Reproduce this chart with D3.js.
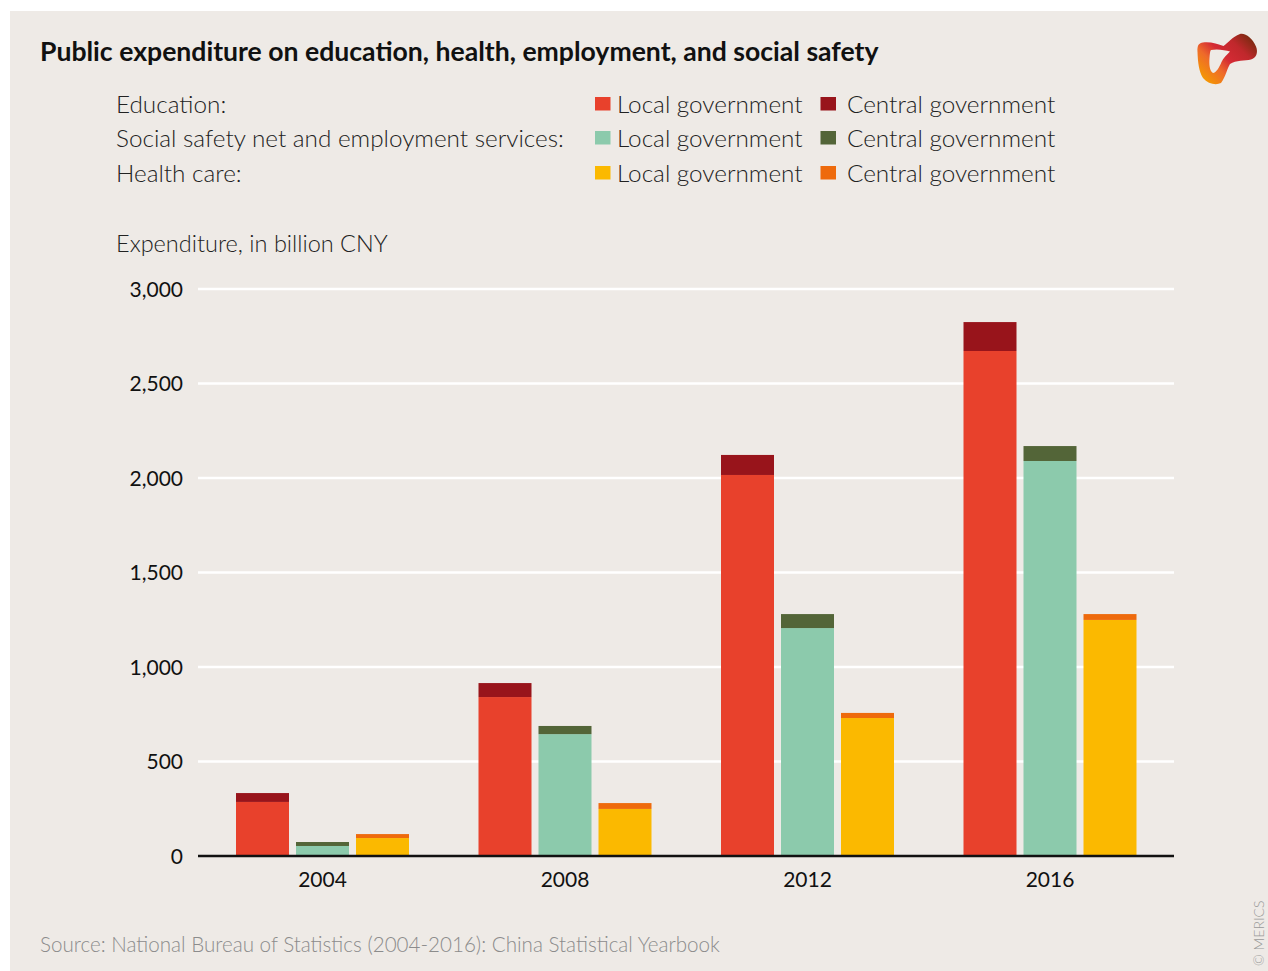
<!DOCTYPE html>
<html>
<head>
<meta charset="utf-8">
<script src="https://cdn.jsdelivr.net/npm/d3@7"></script>
<style>
  html, body { margin: 0; padding: 0; background: #ffffff; }
  svg { display: block; }
  text { font-family: Lato, "Open Sans", sans-serif; }
</style>
</head>
<body>
<svg id="chart" width="1268" height="971"></svg>
<script>
// Expenditure in billion CNY, by year and level of government
const years = ["2004", "2008", "2012", "2016"];
const educationLocal   = [286, 841, 2016, 2672];
const educationCentral = [47, 74, 106, 153];
const socialLocal      = [53, 645, 1206, 2090];
const socialCentral    = [21, 43, 74, 79];
const healthLocal      = [95, 249, 730, 1249];
const healthCentral    = [21, 31, 27, 31];
const yTicks = [0, 500, 1000, 1500, 2000, 2500, 3000];

const sectors = ["Education", "Social safety net and employment services", "Health care"];
const sectorData = [
  { local: educationLocal, central: educationCentral, localColor: "#e8412c", centralColor: "#98141b" },
  { local: socialLocal,    central: socialCentral,    localColor: "#8ccaac", centralColor: "#536538" },
  { local: healthLocal,    central: healthCentral,    localColor: "#fbb900", centralColor: "#ee6a0c" }
];

const svg = d3.select("#chart");
const W = 1268, H = 971;

// panel background
svg.append("rect").attr("x", 10).attr("y", 11).attr("width", W - 10).attr("height", H - 11)
  .attr("fill", "#eeeae6");

// title
svg.append("text").attr("x", 40).attr("y", 61)
  .attr("font-size", 26.6).attr("font-weight", 700).attr("fill", "#111")
  .text("Public expenditure on education, health, employment, and social safety");

// logo
const defs = svg.append("defs");
const grad = defs.append("linearGradient").attr("id", "logoGrad")
  .attr("gradientUnits", "userSpaceOnUse")
  .attr("x1", 1205).attr("y1", 82).attr("x2", 1250).attr("y2", 36);
grad.append("stop").attr("offset", "0%").attr("stop-color", "#f59a00");
grad.append("stop").attr("offset", "30%").attr("stop-color", "#ee6a2a");
grad.append("stop").attr("offset", "50%").attr("stop-color", "#d42a34");
grad.append("stop").attr("offset", "75%").attr("stop-color", "#c0282c");
grad.append("stop").attr("offset", "100%").attr("stop-color", "#7a2a10");
svg.append("path")
  .attr("fill", "url(#logoGrad)")
  .attr("fill-rule", "evenodd")
  .attr("d",
    "M1197.5,52 C1197,45 1199,43 1203,42.5 C1210,41.5 1218,44 1223.5,46 " +
    "C1228,43 1232,37 1240,34 C1246,33 1252,38 1256,46.5 C1258.5,53 1256,58 1251,59.5 " +
    "C1245,61 1236,60 1230,64 C1227,69 1226,76 1221,83 C1216,85.5 1208,84 1203,78 " +
    "C1199,72 1197.8,62 1197.5,52 Z " +
    "M1211,50 C1217,48.5 1225,50 1230,51.5 C1227,55 1223,58 1221.5,62 " +
    "C1219.5,67 1216,73 1213,73 C1209.5,71 1209,64 1209.5,58 C1209.8,54 1210,51 1211,50 Z");

// legend
const legendRows = [113, 147, 182];
const legendSize = 24.3;
const legend = svg.append("g");
sectors.forEach((s, i) => {
  const y = legendRows[i];
  legend.append("text").attr("x", 116).attr("y", y)
    .attr("font-size", legendSize).attr("font-weight", 300).attr("fill", "#222")
    .text(s + ":");
  legend.append("rect").attr("x", 595).attr("y", y - 16).attr("width", 15.5).attr("height", 13.5)
    .attr("fill", sectorData[i].localColor);
  legend.append("text").attr("x", 617).attr("y", y)
    .attr("font-size", legendSize).attr("font-weight", 300).attr("fill", "#222")
    .text("Local government");
  legend.append("rect").attr("x", 820.5).attr("y", y - 16).attr("width", 15.5).attr("height", 13.5)
    .attr("fill", sectorData[i].centralColor);
  legend.append("text").attr("x", 847).attr("y", y)
    .attr("font-size", legendSize).attr("font-weight", 300).attr("fill", "#222")
    .text("Central government");
});

// axis title
svg.append("text").attr("x", 116).attr("y", 252)
  .attr("font-size", 23.5).attr("font-weight", 300).attr("fill", "#222")
  .text("Expenditure, in billion CNY");

// scales
const plotLeft = 198, plotRight = 1174;
const y = d3.scaleLinear().domain([0, 3000]).range([856, 289]);
const x0 = d3.scaleBand().domain(years).range([201.25, 1171.25]).paddingInner(0).paddingOuter(0);
const x1 = d3.scaleBand().domain(d3.range(sectors.length)).range([-86.5, 86.5])
  .paddingInner(7 / 60).paddingOuter(0);

// gridlines
svg.append("g").selectAll("line").data(yTicks.filter(t => t > 0)).join("line")
  .attr("x1", plotLeft).attr("x2", plotRight)
  .attr("y1", d => y(d)).attr("y2", d => y(d))
  .attr("stroke", "#ffffff").attr("stroke-width", 2.6);

// y tick labels
const yAxis = d3.axisLeft(y).tickValues(yTicks).tickFormat(d3.format(",")).tickSize(0).tickPadding(0);
const gy = svg.append("g").attr("transform", "translate(183,0)").call(yAxis);
gy.select(".domain").remove();
gy.selectAll("text").attr("font-size", 21).attr("fill", "#111")
  .attr("font-family", "Lato, 'Open Sans', sans-serif").attr("dy", "0.35em");

// bars
const groups = svg.append("g").selectAll("g").data(years).join("g")
  .attr("transform", d => `translate(${x0(d) + x0.bandwidth() / 2},0)`);
groups.each(function (yr, yi) {
  const g = d3.select(this);
  sectorData.forEach((sd, si) => {
    const loc = sd.local[yi], cen = sd.central[yi];
    g.append("rect").attr("x", x1(si)).attr("width", x1.bandwidth())
      .attr("y", y(loc)).attr("height", y(0) - y(loc)).attr("fill", sd.localColor);
    g.append("rect").attr("x", x1(si)).attr("width", x1.bandwidth())
      .attr("y", y(loc + cen)).attr("height", y(loc) - y(loc + cen)).attr("fill", sd.centralColor);
  });
});

// baseline
svg.append("line").attr("x1", plotLeft).attr("x2", plotRight)
  .attr("y1", y(0)).attr("y2", y(0)).attr("stroke", "#111").attr("stroke-width", 2.6);

// x axis labels
const xAxis = d3.axisBottom(x0).tickSize(0).tickPadding(0);
const gx = svg.append("g").attr("transform", "translate(0,880)").call(xAxis);
gx.select(".domain").remove();
gx.selectAll("text").attr("font-size", 21).attr("fill", "#111")
  .attr("font-family", "Lato, 'Open Sans', sans-serif").attr("dy", "0.35em");

// source
svg.append("text").attr("x", 40).attr("y", 952)
  .attr("font-size", 20.6).attr("font-weight", 300).attr("fill", "#8c8c8c")
  .text("Source: National Bureau of Statistics (2004-2016): China Statistical Yearbook");

// copyright
svg.append("text").attr("transform", "translate(1263.5,966) rotate(-90)")
  .attr("font-size", 14).attr("font-weight", 300).attr("fill", "#9a9a9a")
  .text("© MERICS");
</script>
</body>
</html>
